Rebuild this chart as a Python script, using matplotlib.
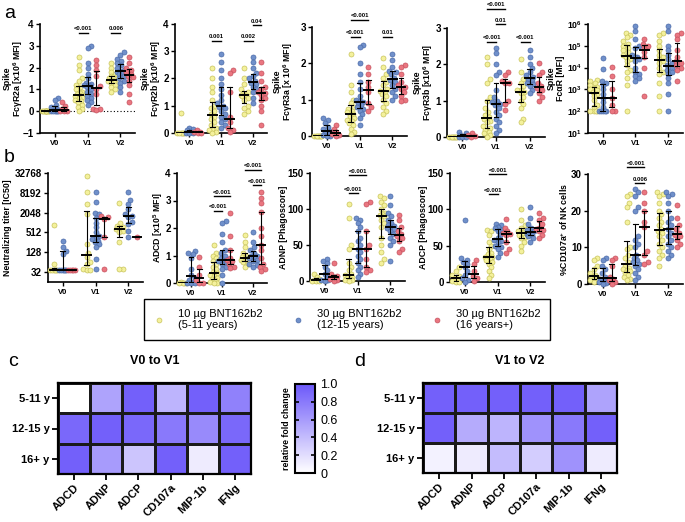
import numpy as np
import matplotlib
matplotlib.use("Agg")
import matplotlib.pyplot as plt
import matplotlib.transforms as mtransforms
from matplotlib.colors import LinearSegmentedColormap
from matplotlib.lines import Line2D

plt.rcParams['font.family'] = ['Liberation Sans', 'DejaVu Sans']
plt.rcParams['mathtext.fontset'] = 'custom'
plt.rcParams['mathtext.rm'] = 'Liberation Sans'
plt.rcParams['mathtext.bf'] = 'Liberation Sans:bold'

W, H = 685, 522

visits = ['V0', 'V1', 'V2']
cohorts = ['10 µg BNT162b2\n(5-11 years)', '30 µg BNT162b2\n(12-15 years)',
           '30 µg BNT162b2\n(16 years+)']
face_colors = ['#F4F19C', '#7090CA', '#EA7680']
edge_colors = ['#C8C35C', '#4C6CAA', '#C65260']

# values per visit -> [5-11 y, 12-15 y, 16+ y]
fcgr2a = [
    [[0.0] * 12,
     [0.6, 0.5, 0.3, 0.2, 0.1, 0.05, 0.02, 0, 0, 0, 0, 0],
     [0.4, 0.25, 0.1, 0.05, 0.02, 0, 0]],
    [[2.5, 2.1, 1.9, 1.5, 1.4, 1.2, 1.1, 1.0, 0.9, 0.85, 0.8, 0.75, 0.72, 0.7, 0.65, 0.6, 0.5, 0.45, 0.4, 0.3, 0.2, 0.1, 0.0],
     [3.0, 2.9, 2.2, 2.0, 1.7, 1.5, 1.3, 1.25, 1.2, 1.2, 1.15, 1.1, 1.0, 0.9, 0.8, 0.7, 0.6, 0.5, 0.4, 0.3],
     [2.35, 2.1, 1.9, 1.6, 1.15, 1.0, 0.8, 0.1, 0.1, 0.05]],
    [[2.2, 2.0, 1.8, 1.7, 1.6, 1.55, 1.5, 1.45, 1.45, 1.4, 1.35, 1.3, 1.2, 1.1, 1.0, 0.9],
     [2.7, 2.6, 2.4, 2.3, 2.2, 2.1, 2.0, 1.9, 1.85, 1.8, 1.75, 1.7, 1.6, 1.5, 1.4, 1.3, 1.1, 0.9],
     [2.5, 2.2, 2.0, 1.9, 1.8, 1.7, 1.6, 1.55, 1.4, 1.2, 0.8, 0.4]],
]
fcgr2b = [
    [[0.75, 0, 0, 0, 0, 0, 0],
     [0.2, 0.15, 0.1, 0.05, 0, 0, 0],
     [0.1, 0.05, 0.02, 0, 0]],
    [[2.4, 2.0, 1.7, 1.5, 1.2, 1.0, 0.9, 0.8, 0.7, 0.6, 0.5, 0.4, 0.3, 0.2, 0.15, 0.1, 0.05, 0.0],
     [2.9, 2.6, 2.3, 2.0, 1.8, 1.6, 1.4, 1.2, 1.1, 1.0, 0.95, 0.9, 0.8, 0.7, 0.6, 0.5, 0.4, 0.3, 0.2],
     [2.3, 2.2, 1.5, 0.6, 0.4, 0.2, 0.1, 0.05]],
    [[2.4, 2.0, 1.8, 1.6, 1.5, 1.45, 1.4, 1.4, 1.35, 1.3, 1.2, 1.0, 0.9, 0.8, 0.7],
     [2.8, 2.6, 2.4, 2.2, 2.1, 2.0, 1.9, 1.85, 1.8, 1.7, 1.6, 1.5, 1.3, 1.1],
     [2.6, 2.2, 1.9, 1.7, 1.6, 1.5, 1.45, 1.4, 1.3, 1.2, 1.0, 0.8, 0.3]],
]
fcgr3a = [
    [[0.0] * 8,
     [0.5, 0.45, 0.35, 0.25, 0.2, 0.15, 0.1, 0.05, 0.02, 0, 0],
     [0.3, 0.2, 0.1, 0.05, 0.02, 0]],
    [[2.25, 1.4, 1.2, 1.0, 0.9, 0.8, 0.75, 0.7, 0.65, 0.6, 0.55, 0.5, 0.45, 0.4, 0.35, 0.3, 0.2, 0.1, 0.05],
     [2.5, 2.45, 2.0, 1.7, 1.5, 1.3, 1.1, 1.0, 0.95, 0.93, 0.9, 0.85, 0.8, 0.75, 0.7, 0.6, 0.5, 0.3],
     [1.9, 1.7, 1.5, 1.35, 1.2, 0.9, 0.8, 0.7]],
    [[2.15, 1.9, 1.7, 1.6, 1.5, 1.4, 1.3, 1.25, 1.2, 1.15, 1.1, 1.0, 0.9, 0.8, 0.7, 0.6],
     [2.25, 2.1, 1.9, 1.8, 1.75, 1.7, 1.6, 1.55, 1.5, 1.4, 1.3, 1.2, 1.1, 1.0],
     [1.95, 1.9, 1.7, 1.5, 1.4, 1.35, 1.3, 1.2, 1.1, 1.0, 0.95]],
]
fcgr3b = [
    [[0.0] * 8,
     [0.15, 0.1, 0.05, 0.02, 0, 0, 0],
     [0.1, 0.05, 0.02, 0]],
    [[2.2, 2.0, 1.6, 1.5, 1.1, 1.0, 0.8, 0.7, 0.6, 0.55, 0.5, 0.45, 0.4, 0.3, 0.25, 0.2, 0.15, 0.1, 0.05, 0.0],
     [2.45, 2.3, 2.0, 1.8, 1.7, 1.3, 1.1, 1.0, 0.95, 0.9, 0.88, 0.8, 0.7, 0.6, 0.5, 0.4, 0.3, 0.2, 0.1],
     [1.8, 1.7, 1.55, 1.5, 1.5, 1.0, 0.9, 0.75]],
    [[2.15, 1.8, 1.6, 1.5, 1.4, 1.3, 1.28, 1.25, 1.2, 1.1, 1.0, 0.9, 0.8, 0.5, 0.4],
     [2.4, 2.2, 2.0, 1.9, 1.8, 1.7, 1.65, 1.6, 1.55, 1.5, 1.45, 1.4, 1.3, 1.2],
     [2.05, 1.8, 1.7, 1.5, 1.4, 1.35, 1.3, 1.2, 1.1, 1.0]],
]
fcar_log10 = [
    [[3.45, 3.4, 3.3, 3.2, 3.1, 3.05, 3.0, 2.95, 2.9, 2.8, 2.7, 2.5, 2.3, 2.2, 2.0, 2.0, 2.0, 2.0],
     [4.45, 3.95, 3.4, 3.3, 3.2, 3.0, 2.8, 2.6, 2.4, 2.2, 2.0, 2.0, 2.0, 2.0, 2.0],
     [4.05, 3.6, 3.0, 2.6, 2.3, 2.0, 2.0]],
    [[5.6, 5.5, 5.4, 5.2, 5.1, 5.0, 4.9, 4.8, 4.7, 4.6, 4.5, 4.5, 4.4, 4.3, 4.1, 3.9, 3.8, 3.5, 3.2, 2.0],
     [5.9, 5.7, 5.3, 5.0, 4.9, 4.6, 4.5, 4.5, 4.4, 4.3, 4.0, 3.8, 3.7, 3.6, 3.5, 3.4],
     [5.3, 5.1, 5.0, 4.9, 4.7, 4.5, 4.0, 2.7]],
    [[5.6, 5.5, 5.2, 5.0, 4.8, 4.6, 4.5, 4.4, 4.3, 4.2, 4.0, 3.8, 3.7, 3.3, 2.7, 2.0],
     [5.9, 5.7, 5.0, 4.8, 4.6, 4.4, 4.2, 4.1, 4.0, 3.9, 3.8, 3.7, 3.5, 3.3, 2.8, 2.0],
     [5.6, 5.5, 5.3, 4.8, 4.5, 4.3, 4.2, 4.1, 4.0, 3.9, 3.4]],
]
nt_log2 = [
    [[9.77, 5.77, 5.2, 5.2, 5.2, 5.2, 5.2, 5.2],
     [8.17, 7.5, 7.17, 6.83, 5.2, 5.2, 5.2, 5.2, 5.2, 5.2],
     [5.2, 5.2, 5.2, 5.2, 5.2]],
    [[14.67, 13.1, 11.83, 10.83, 7.83, 6.9, 6.5, 6.0, 5.83, 5.33, 5.2, 5.2],
     [13.1, 12.07, 11.0, 10.83, 10.5, 10.0, 9.57, 9.0, 8.67, 8.43, 8.33, 8.17, 8.0, 7.83, 7.5, 6.33, 5.27],
     [10.67, 10.57, 10.33, 8.57, 5.27]],
    [[12.0, 10.0, 9.67, 9.57, 9.43, 9.33, 9.17, 9.0, 8.0, 5.27, 5.27],
     [13.1, 12.23, 11.83, 11.33, 10.83, 10.67, 10.57, 10.07, 9.9, 9.17, 8.57],
     [8.57]],
]
adcd = [
    [[0.02, 0.01, 0.0, 0.0, 0.0],
     [1.15, 1.1, 1.05, 0.9, 0.5, 0.3, 0.2, 0.1, 0.05, 0, 0, 0],
     [0.95, 0.6, 0.3, 0.1, 0, 0]],
    [[1.4, 1.1, 1.0, 0.9, 0.8, 0.7, 0.6, 0.5, 0.4, 0.35, 0.3, 0.25, 0.2, 0.15, 0.1, 0.05, 0, 0],
     [2.25, 2.2, 1.8, 1.5, 1.2, 1.1, 1.0, 0.9, 0.85, 0.8, 0.8, 0.75, 0.7, 0.6, 0.5, 0.3, 0.0],
     [2.55, 1.7, 1.2, 0.9, 0.85, 0.8, 0.7, 0.6, 0.55]],
    [[1.75, 1.5, 1.3, 1.1, 1.0, 0.95, 0.9, 0.9, 0.85, 0.8, 0.75, 0.7, 0.6],
     [1.85, 1.5, 1.3, 1.2, 1.1, 1.0, 0.98, 0.95, 0.9, 0.85, 0.8, 0.7, 0.65, 0.6],
     [3.3, 3.1, 2.9, 2.6, 2.0, 1.7, 1.4, 1.2, 0.9, 0.7, 0.6, 0.5, 0.45]],
]
adnp = [
    [[10, 5, 3, 2, 1, 0, 0, 0],
     [30, 28, 25, 20, 15, 10, 5, 3, 2, 1, 0],
     [25, 10, 7, 5, 3, 2, 0]],
    [[107, 88, 50, 45, 25, 20, 15, 10, 8, 6, 5, 4, 3, 2, 1, 0],
     [88, 85, 80, 75, 70, 60, 55, 50, 45, 40, 35, 30, 25, 20, 15, 10, 5],
     [110, 107, 70, 50, 45, 30, 20, 15, 13]],
    [[118, 115, 110, 105, 100, 95, 93, 92, 90, 85, 80, 75, 60, 50, 40, 30, 25],
     [118, 105, 95, 90, 85, 80, 78, 76, 75, 74, 72, 70, 65, 60, 55, 50, 28],
     [92, 85, 75, 70, 65, 63, 60, 55, 45, 40]],
]
adcp = [
    [[20, 15, 10, 8, 5, 3, 2, 0, 0],
     [85, 33, 30, 28, 25, 20, 15, 10, 5, 3, 0],
     [30, 25, 15, 8, 5, 2]],
    [[72, 70, 65, 55, 50, 45, 40, 38, 35, 34, 33, 30, 28, 25, 20, 15, 10, 5],
     [80, 78, 76, 75, 72, 70, 65, 60, 58, 57, 55, 50, 48, 45, 40, 35],
     [87, 75, 70, 68, 66, 65, 55, 45, 40]],
    [[100, 85, 78, 75, 72, 70, 68, 67, 65, 62, 60, 55, 50, 42],
     [103, 88, 80, 75, 72, 70, 68, 66, 65, 63, 60, 55],
     [95, 88, 85, 80, 75, 73, 72, 70, 65, 60]],
]
cd107a = [
    [[7, 6.5, 5, 4, 3, 2.5, 2, 1.8, 1.5, 1.2, 1, 0.5],
     [7, 6.5, 5, 4, 3, 2, 1.5, 1, 0.8, 0.5, 0.2, 0],
     [7, 6.5, 5, 2, 1.5, 1, 0.5, 0]],
    [[24.5, 24, 22, 21, 17, 10, 9.5, 8, 7, 6, 5, 4.5, 4, 3.8, 3.5, 3, 2.5, 2, 1.5, 1],
     [25.8, 25, 24, 21, 20, 13, 12, 11, 10, 8, 7, 6.5, 6, 5.5, 5, 4, 3, 2, 1],
     [25, 22, 20, 17, 15.5, 9, 8, 6, 5.5]],
    [[25, 24.5, 24, 22, 20, 19, 18, 17, 16, 15, 14.5, 14, 13, 12, 11, 10, 9, 8, 7, 5],
     [25, 24.5, 24, 22, 20, 18, 17, 16, 15, 14, 13, 12, 11, 10, 9, 8, 7],
     [21.5, 18, 16, 15, 14, 13.5, 13, 12, 11, 10]],
]

# heatmaps: relative fold change
hm_rows = ['5-11 y', '12-15 y', '16+ y']
hm_cols = ['ADCD', 'ADNP', 'ADCP', 'CD107a', 'MIP-1b', 'IFNg']
v0_to_v1 = [[0.0, 0.55, 0.95, 0.45, 0.95, 0.75],
            [0.9, 0.95, 0.9, 0.8, 0.7, 0.9],
            [0.95, 0.6, 0.35, 0.95, 0.12, 0.95]]
v1_to_v2 = [[0.95, 0.95, 0.95, 0.95, 0.95, 0.55],
            [0.95, 0.5, 0.45, 0.65, 0.8, 0.95],
            [0.08, 0.12, 0.4, 0.3, 0.65, 0.12]]

fig = plt.figure(figsize=(W / 100, H / 100), dpi=100)


def px_axes(l, t, r, b):
    ax = fig.add_axes([l / W, 1 - b / H, (r - l) / W, (b - t) / H])
    ax.px_width = r - l
    return ax


OFF = 0.27


def swarm(ax, xc, ys, r=2.4, cap=4.2):
    ys = np.asarray(ys, float)
    disp = ax.transData.transform(np.column_stack([np.full(len(ys), xc), ys]))
    x0, yp = disp[0, 0], disp[:, 1]
    cands = [0.0]
    k = 1
    while k * 0.9 <= cap:
        cands += [k * 0.9, -k * 0.9]
        k += 1
    placed, xs = [], np.zeros(len(ys))
    for i in np.argsort(yp):
        best, bestd = 0.0, -1
        for c in cands:
            d = min([np.hypot(c - px, yp[i] - py) for px, py in placed], default=1e9)
            if d >= 2 * r * 0.9:
                best = c
                break
            if d > bestd:
                best, bestd = c, d
        placed.append((best, yp[i]))
        xs[i] = best
    back = ax.transData.inverted().transform(np.column_stack([x0 + xs, yp]))
    return back[:, 0]


def scatter_panel(ax, data, ylim, yticks, ylabel, label_dx, log=None, sig=()):
    if log == 10:
        ax.set_yscale('log')
    elif log == 2:
        ax.set_yscale('log', base=2)
    ax.set_xlim(-0.45, 2.45)
    ax.set_ylim(*ylim)
    for v, groups in enumerate(data):
        for g, vals in enumerate(groups):
            vals = np.asarray(vals, float)
            if log == 10:
                vals = 10 ** vals
            elif log == 2:
                vals = 2 ** vals
            xc = v + (g - 1) * OFF
            xs = swarm(ax, xc, vals)
            ax.scatter(xs, vals, s=13, c=face_colors[g], edgecolors=edge_colors[g],
                       linewidths=0.5, zorder=3, clip_on=False)
            q1, med, q3 = np.percentile(vals, [25, 50, 75])
            ax.plot([xc, xc], [q1, q3], color='black', lw=0.8, zorder=4)
            ax.plot([xc - 0.07, xc + 0.07], [q1, q1], color='black', lw=0.8, zorder=4)
            ax.plot([xc - 0.07, xc + 0.07], [q3, q3], color='black', lw=0.8, zorder=4)
            ax.plot([xc - 0.13, xc + 0.13], [med, med], color='black', lw=1.4, zorder=4)
    ax.set_xticks(range(3))
    ax.set_xticklabels(visits, fontsize=5.5, fontweight='bold')
    ax.set_yticks(yticks)
    ax.tick_params(axis='y', labelsize=7, length=3, width=1, pad=1.5)
    ax.tick_params(axis='x', length=3, width=1, pad=2)
    ax.minorticks_off()
    for lab in ax.get_yticklabels():
        lab.set_fontweight('bold')
    for s in ['top', 'right']:
        ax.spines[s].set_visible(False)
    for s in ['left', 'bottom']:
        ax.spines[s].set_linewidth(1.2)
    ax.set_ylabel(ylabel, fontsize=6.3, fontweight='bold', linespacing=1.0)
    ax.yaxis.set_label_coords(label_dx / ax.px_width, 0.5)
    tr = mtransforms.offset_copy(ax.transData, fig=fig, y=1.5, units='dots')
    for v, g1, g2, y, txt in sig:
        x1, x2 = v + (g1 - 1) * OFF, v + (g2 - 1) * OFF
        ax.plot([x1, x2], [y, y], color='black', lw=1.0, clip_on=False, zorder=5)
        ax.text((x1 + x2) / 2, y, txt, transform=tr, ha='center', va='bottom',
                fontsize=4.2, fontweight='bold', clip_on=False)


# row a
ax = px_axes(40, 24, 135, 133)
ax.axhline(0, color='black', lw=0.8, ls=(0, (1, 2)), zorder=1)
scatter_panel(ax, fcgr2a, (-1, 4), range(-1, 5), 'Spike\nFcγR2a [x10$^{\\mathbf{6}}$ MFI]', -15,
              sig=[(1, 0, 1, 3.59, '<0.001'), (2, 0, 1, 3.59, '0.006')])
ax = px_axes(175, 24, 267, 133)
scatter_panel(ax, fcgr2b, (0, 4), range(0, 5), 'Spike\nFcγR2b [x10$^{\\mathbf{6}}$ MFI]', -12,
              sig=[(1, 0, 1, 3.38, '0.001'), (2, 0, 1, 3.38, '0.002'), (2, 1, 2, 3.96, '0.04')])
ax = px_axes(312, 27, 407, 136)
scatter_panel(ax, fcgr3a, (0, 3), range(0, 4), 'Spike\nFcγR3a [x 10$^{\\mathbf{6}}$ MFI]', -17,
              sig=[(1, 0, 2, 3.2, '<0.001'), (1, 0, 1, 2.73, '<0.001'), (2, 0, 1, 2.73, '0.01')])
ax = px_axes(447, 28, 545, 137)
scatter_panel(ax, fcgr3b, (0, 3), range(0, 4), 'Spike\nFcγR3b [x10$^{\\mathbf{6}}$ MFI]', -12,
              sig=[(1, 0, 2, 3.53, '<0.001'), (1, 1, 2, 3.11, '0.01'),
                   (1, 0, 1, 2.62, '<0.001'), (2, 0, 1, 2.62, '<0.001')])
ax = px_axes(588, 24, 683, 133)
scatter_panel(ax, fcar_log10, (10, 1e6), [10 ** k for k in range(1, 7)], 'Spike\nFcαR [MFI]', -23,
              log=10)
ax.set_yticklabels(['$\\mathbf{10^{%d}}$' % k for k in range(1, 7)], fontsize=6.2)

# row b
ax = px_axes(48, 173, 143, 282)
scatter_panel(ax, nt_log2, (16, 32768), [32, 128, 512, 2048, 8192, 32768],
              'Neutralizing titer [IC50]', -36, log=2)
ax.set_yticklabels(['32', '128', '512', '2048', '8192', '32768'])
for lab in ax.get_yticklabels():
    lab.set_fontweight('bold')
ax = px_axes(177, 173, 267, 283)
scatter_panel(ax, adcd, (0, 4), range(0, 5), 'ADCD [x10$^{\\mathbf{5}}$ MFI]', -12,
              sig=[(2, 0, 2, 4.11, '<0.001'), (2, 1, 2, 3.56, '<0.001'),
                   (1, 0, 2, 3.16, '<0.001'), (1, 0, 1, 2.62, '<0.001')])
ax = px_axes(310, 173, 405, 281)
scatter_panel(ax, adnp, (0, 150), [0, 50, 100, 150], 'ADNP [Phagoscore]', -22,
              sig=[(1, 0, 2, 147, '<0.001'), (1, 0, 1, 122, '<0.001')])
ax = px_axes(450, 173, 545, 282)
scatter_panel(ax, adcp, (0, 150), [0, 50, 100, 150], 'ADCP [Phagoscore]', -22,
              sig=[(1, 0, 2, 148.5, '<0.001'), (1, 0, 1, 121, '<0.001')])
ax = px_axes(588, 174, 683, 284)
scatter_panel(ax, cd107a, (0, 30), [0, 10, 20, 30], '%CD107a$^{\\mathbf{+}}$ of NK cells', -18,
              sig=[(1, 0, 2, 31.9, '<0.001'), (1, 1, 2, 27.5, '0.006')])

# legend
handles = [Line2D([], [], ls='none', marker='o', ms=3.5, mfc=face_colors[i],
                  mec=edge_colors[i], mew=0.5) for i in range(3)]
leg = fig.legend(handles, cohorts, loc='center', ncol=3, fontsize=8,
                 bbox_to_anchor=(138 / W, 1 - 343 / H, 418 / W, 47 / H), mode='expand',
                 fancybox=False, edgecolor='black', framealpha=1, borderpad=0.9,
                 handlelength=1.0, handletextpad=1.2, columnspacing=2.0)
leg.get_frame().set_linewidth(1.0)

# heatmaps
cmap = LinearSegmentedColormap.from_list('fold', ['#FFFFFF', '#6C58FA'])


def heat_panel(ax, mat, title):
    m = ax.pcolormesh(np.asarray(mat), cmap=cmap, vmin=0, vmax=1,
                      edgecolors='#1a1a1a', linewidth=0.8)
    ax.set_xlim(0, 6)
    ax.set_ylim(3, 0)
    ax.set_xticks(np.arange(6) + 0.5)
    ax.set_xticklabels(hm_cols, rotation=45, ha='right', rotation_mode='anchor',
                       fontsize=8, fontweight='bold')
    ax.set_yticks(np.arange(3) + 0.5)
    ax.set_yticklabels(hm_rows, fontsize=8, fontweight='bold')
    ax.tick_params(length=4, width=1.3, pad=2)
    for s in ax.spines.values():
        s.set_linewidth(1.6)
    ax.set_title(title, fontsize=9, fontweight='bold', pad=14)
    return m


ax_c = px_axes(58, 383, 251, 474)
mesh = heat_panel(ax_c, v0_to_v1, 'V0 to V1')
ax_d = px_axes(423, 383, 617, 473)
heat_panel(ax_d, v1_to_v2, 'V1 to V2')

cax = px_axes(295, 384, 315, 473)
cb = fig.colorbar(mesh, cax=cax, ticks=[0, 0.2, 0.4, 0.6, 0.8, 1.0])
cb.ax.set_yticklabels(['0', '0.2', '0.4', '0.6', '0.8', '1.0'], fontsize=9)
cb.ax.tick_params(direction='in', left=True, right=True, length=3, width=1.2, pad=4)
cb.outline.set_linewidth(1.5)
cb.ax.yaxis.set_label_position('left')
cb.set_label('relative fold change', fontsize=6.3, fontweight='bold', labelpad=3)

# panel letters
for letter, x, y in [('a', 4, 14), ('b', 4, 158), ('c', 8, 362), ('d', 354, 362)]:
    fig.text(x / W, 1 - y / H, letter, fontsize=14, va='center', ha='left')

fig.savefig('out.png', dpi=100)
